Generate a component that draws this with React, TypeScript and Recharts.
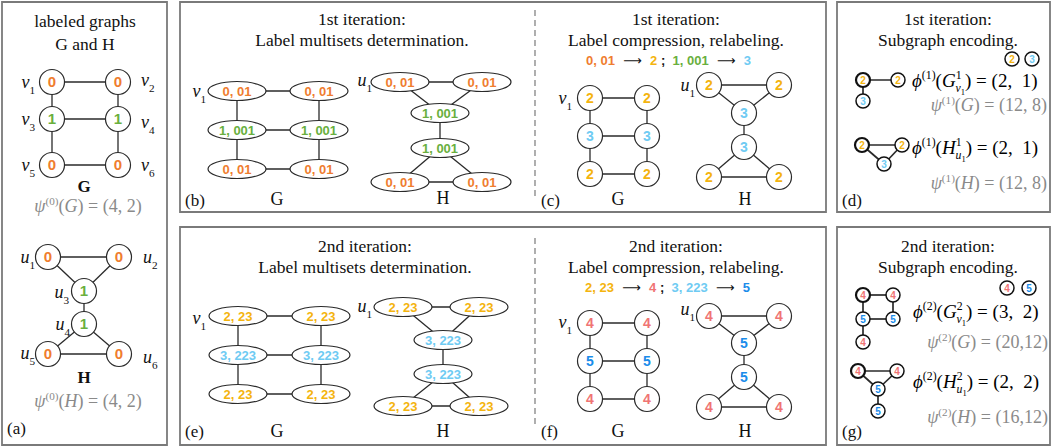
import { ScatterChart, Scatter, XAxis, YAxis, ReferenceArea, ReferenceLine } from 'recharts'

const W = 1053
const H = 448
const SERIF = "'Liberation Serif', 'Times New Roman', serif"
const SANS = "'Liberation Sans', Arial, sans-serif"
const EDGE = '#2a2a2a'
const GREY = '#8a8a8a'
const FRAME = '#7a7a7a'

const COLORS: Record<string, string> = {
  o: '#EF7D2F',
  g: '#69AF3E',
  y: '#F4B40F',
  s: '#6FCBF3',
  r: '#F07474',
  b: '#1B8CEA',
}

// node rows: [x, y, label, colour]
type Row = [number, number, string, string]

const A_G: Row[] = [[52, 82, '0', 'o'], [118, 82, '0', 'o'], [52, 119, '1', 'g'], [118, 119, '1', 'g'], [52, 165, '0', 'o'], [118, 165, '0', 'o']]
const A_H: Row[] = [[48, 257, '0', 'o'], [119, 257, '0', 'o'], [84, 291, '1', 'g'], [84, 324, '1', 'g'], [48, 354, '0', 'o'], [119, 354, '0', 'o']]
const B_G: Row[] = [[237, 91, '0, 01', 'o'], [319, 91, '0, 01', 'o'], [237, 130, '1, 001', 'g'], [319, 130, '1, 001', 'g'], [237, 169, '0, 01', 'o'], [319, 169, '0, 01', 'o']]
const B_H: Row[] = [[400, 82, '0, 01', 'o'], [482, 82, '0, 01', 'o'], [440, 113, '1, 001', 'g'], [440, 148, '1, 001', 'g'], [400, 182, '0, 01', 'o'], [482, 182, '0, 01', 'o']]
const C_G: Row[] = [[590, 98, '2', 'y'], [647, 98, '2', 'y'], [590, 136, '3', 's'], [647, 136, '3', 's'], [590, 174, '2', 'y'], [647, 174, '2', 'y']]
const C_H: Row[] = [[709, 85, '2', 'y'], [779, 85, '2', 'y'], [744, 113, '3', 's'], [744, 147, '3', 's'], [709, 177, '2', 'y'], [779, 177, '2', 'y']]
const E_G: Row[] = [[238, 316, '2, 23', 'y'], [321, 316, '2, 23', 'y'], [238, 355, '3, 223', 's'], [321, 355, '3, 223', 's'], [238, 394, '2, 23', 'y'], [321, 394, '2, 23', 'y']]
const E_H: Row[] = [[403, 307, '2, 23', 'y'], [479, 307, '2, 23', 'y'], [443, 340, '3, 223', 's'], [443, 374, '3, 223', 's'], [403, 406, '2, 23', 'y'], [479, 406, '2, 23', 'y']]
const F_G: Row[] = [[590, 323, '4', 'r'], [647, 323, '4', 'r'], [590, 361, '5', 'b'], [647, 361, '5', 'b'], [590, 399, '4', 'r'], [647, 399, '4', 'r']]
const F_H: Row[] = [[709, 316, '4', 'r'], [779, 316, '4', 'r'], [744, 343, '5', 'b'], [744, 377, '5', 'b'], [709, 407, '4', 'r'], [779, 407, '4', 'r']]

const D_G: Row[] = [[863, 80, '2', 'y'], [898, 80, '2', 'y'], [863, 101, '3', 's']]
const D_H: Row[] = [[862, 145, '2', 'y'], [902, 145, '2', 'y'], [884, 164, '3', 's']]
const D_KEY: Row[] = [[1012, 59, '2', 'y'], [1032, 59, '3', 's']]
const G_G: Row[] = [[863, 295, '4', 'r'], [893, 295, '4', 'r'], [863, 319, '5', 'b'], [893, 319, '5', 'b'], [863, 342, '4', 'r']]
const G_H: Row[] = [[858, 371, '4', 'r'], [897, 371, '4', 'r'], [878, 389, '5', 'b'], [878, 411, '5', 'b']]
const G_KEY: Row[] = [[1007, 288, '4', 'r'], [1029, 288, '5', 'b']]

const LADDER = [[0, 1], [0, 2], [1, 3], [2, 3], [2, 4], [3, 5], [4, 5]]
const BOWTIE = [[0, 1], [0, 2], [1, 2], [2, 3], [3, 4], [3, 5], [4, 5]]
const D_G_E = [[0, 1], [0, 2]]
const D_H_E = [[0, 1], [0, 2], [1, 2]]
const G_G_E = [[0, 1], [0, 2], [1, 3], [2, 3], [2, 4]]
const G_H_E = [[0, 1], [0, 2], [1, 2], [2, 3]]

const GRAPHS = [
  { rows: A_G, edges: LADDER, kind: 'a' },
  { rows: A_H, edges: BOWTIE, kind: 'a' },
  { rows: B_G, edges: LADDER, kind: 'e' },
  { rows: B_H, edges: BOWTIE, kind: 'e' },
  { rows: C_G, edges: LADDER, kind: 'c' },
  { rows: C_H, edges: BOWTIE, kind: 'c' },
  { rows: E_G, edges: LADDER, kind: 'e' },
  { rows: E_H, edges: BOWTIE, kind: 'e' },
  { rows: F_G, edges: LADDER, kind: 'c' },
  { rows: F_H, edges: BOWTIE, kind: 'c' },
  { rows: D_G, edges: D_G_E, kind: 's' },
  { rows: D_H, edges: D_H_E, kind: 's' },
  { rows: D_KEY, edges: [], kind: 'k' },
  { rows: G_G, edges: G_G_E, kind: 's' },
  { rows: G_H, edges: G_H_E, kind: 's' },
  { rows: G_KEY, edges: [], kind: 'k' },
]

// frames: [x1, x2, y1, y2]
const FRAMES = [[2, 167, 2, 445], [180, 826, 2, 212], [837, 1050, 2, 212], [180, 826, 227, 445], [837, 1050, 227, 445]]
const DIVIDERS = [[535, 10, 198], [535, 238, 428]]

// text rows
const TITLES: [number, number, string][] = [
  [85, 21, 'labeled graphs'], [85, 44, 'G and H'],
  [362, 19, '1st iteration:'], [362, 40, 'Label multisets determination.'],
  [676, 19, '1st iteration:'], [676, 40, 'Label compression, relabeling.'],
  [948, 19, '1st iteration:'], [948, 40, 'Subgraph encoding.'],
  [365, 246, '2nd iteration:'], [365, 267, 'Label multisets determination.'],
  [676, 246, '2nd iteration:'], [676, 267, 'Label compression, relabeling.'],
  [948, 246, '2nd iteration:'], [948, 267, 'Subgraph encoding.'],
]
const TAGS: [number, number, string][] = [
  [7, 428, '(a)'], [185, 200, '(b)'], [541, 200, '(c)'], [842, 200, '(d)'],
  [185, 431, '(e)'], [541, 431, '(f)'], [842, 431, '(g)'],
]
const CAPTIONS: [number, number, string, boolean][] = [
  [84, 186, 'G', true], [84, 377, 'H', true],
  [277, 199, 'G', false], [443, 198, 'H', false], [618, 199, 'G', false], [745, 199, 'H', false],
  [277, 431, 'G', false], [443, 431, 'H', false], [618, 431, 'G', false], [745, 431, 'H', false],
]
// [x, y, letter, index, anchor]
const NAMES: [number, number, string, string, string][] = [
  [35, 82, 'v', '1', 'end'], [141, 80, 'v', '2', 'start'], [35, 119, 'v', '3', 'end'],
  [141, 122, 'v', '4', 'start'], [35, 165, 'v', '5', 'end'], [141, 165, 'v', '6', 'start'],
  [35, 257, 'u', '1', 'end'], [143, 257, 'u', '2', 'start'], [69, 292, 'u', '3', 'end'],
  [70, 324, 'u', '4', 'end'], [35, 353, 'u', '5', 'end'], [143, 357, 'u', '6', 'start'],
  [206, 91, 'v', '1', 'end'], [372, 80, 'u', '1', 'end'], [572, 98, 'v', '1', 'end'], [695, 85, 'u', '1', 'end'],
  [206, 318, 'v', '1', 'end'], [372, 306, 'u', '1', 'end'], [572, 322, 'v', '1', 'end'], [695, 309, 'u', '1', 'end'],
]
// [x, y, iteration, graph, value, anchor]
const PSI: [number, number, string, string, string, string][] = [
  [88, 206, '0', 'G', '(4, 2)', 'middle'], [88, 401, '0', 'H', '(4, 2)', 'middle'],
  [1047, 105, '1', 'G', '(12, 8)', 'end'], [1047, 183, '1', 'H', '(12, 8)', 'end'],
  [1048, 342, '2', 'G', '(20,12)', 'end'], [1048, 417, '2', 'H', '(16,12)', 'end'],
]
// [x, y, iteration, graph, sup, sub, value]
const PHI: [number, number, string, string, string, string, string][] = [
  [912, 80, '1', 'G', '1', 'v', '(2,  1)'], [912, 147, '1', 'H', '1', 'u', '(2,  1)'],
  [913, 311, '2', 'G', '2', 'v', '(3,  2)'], [913, 381, '2', 'H', '2', 'u', '(2,  2)'],
]
// mapping lines: [x, y, [from, colour, to, colour] x2]
const MAPS: [number, number, string[]][] = [
  [586, 60, ['0, 01', 'o', '2', 'y', '1, 001', 'g', '3', 's']],
  [585, 287, ['2, 23', 'y', '4', 'r', '3, 223', 's', '5', 'b']],
]

type Seg = { s: string; i?: boolean; l?: number; c?: string; f?: string; w?: number; dx?: number; z?: number }

const SHIFT: Record<string, number> = { '0': 0, '1': -0.42, '-1': 0.3, '-2': 0.45 }
const SCALE: Record<string, number> = { '0': 1, '1': 0.62, '-1': 0.62, '-2': 0.45 }

const TEXTS: any[] = [
  ...TITLES.map(([x, y, s]) => ({ x, y, size: 17.5, segs: [{ s }] })),
  ...TAGS.map(([x, y, s]) => ({ x, y, size: 17, anchor: 'start', segs: [{ s }] })),
  ...CAPTIONS.map(([x, y, s, b]) => ({ x, y, size: b ? 17 : 18, weight: b ? 700 : 400, segs: [{ s }] })),
  ...NAMES.map(([x, y, a, n, anchor]) => ({ x, y, size: 18, anchor, segs: [{ s: a, i: true }, { s: n, l: -1 }] })),
  ...PSI.map(([x, y, it, g, v, anchor]) => ({
    x, y, size: 18, anchor, color: GREY,
    segs: [{ s: 'ψ', i: true }, { s: `(${it})`, l: 1 }, { s: '(' }, { s: g, i: true }, { s: `) = ${v}` }],
  })),
  ...PHI.map(([x, y, it, g, sup, sub, v]) => ({
    x, y, size: 19, anchor: 'start', color: '#000',
    segs: [
      { s: 'ϕ', i: true }, { s: `(${it})`, l: 1 }, { s: '(' }, { s: g, i: true }, { s: sup, l: 1 },
      { s: sub, i: true, l: -1, dx: -6 }, { s: '1', l: -2 }, { s: `) = ${v}` },
    ],
  })),
  ...MAPS.map(([x, y, m]) => ({
    x, y, size: 13, anchor: 'start', font: SANS, weight: 700,
    segs: [
      { s: m[0], c: COLORS[m[1]] }, { s: '  ⟶  ', c: '#111', f: "'DejaVu Sans', sans-serif", w: 400 }, { s: m[2], c: COLORS[m[3]] },
      { s: ' ;  ', c: '#111' }, { s: m[4], c: COLORS[m[5]] }, { s: '  ⟶  ', c: '#111', f: "'DejaVu Sans', sans-serif", w: 400 },
      { s: m[6], c: COLORS[m[7]] },
    ],
  })),
]

const toPts = (rows: Row[]) => rows.map(([x, y, t, c], i) => ({ x, y, t, c, root: i === 0 }))

function NodeMark({ cx, cy, payload, kind }: any) {
  const col = COLORS[payload.c]
  if (kind === 'e') {
    return (
      <g>
        <ellipse cx={cx} cy={cy} rx={29} ry={9.5} fill="#fff" stroke={EDGE} strokeWidth={1.2} />
        <text x={cx} y={cy} dy="0.36em" textAnchor="middle" fontFamily={SANS} fontWeight={700} fontSize={13} fill={col}>
          {payload.t}
        </text>
      </g>
    )
  }
  const small = kind === 's' || kind === 'k'
  const r = small ? 7 : 12.5
  const sw = small ? (kind === 's' && payload.root ? 2.2 : 1.5) : 1.2
  return (
    <g>
      <circle cx={cx} cy={cy} r={r} fill="#fff" stroke={small ? '#111' : EDGE} strokeWidth={sw} />
      <text x={cx} y={cy} dy="0.36em" textAnchor="middle" fontFamily={SANS} fontWeight={700} fontSize={small ? 10 : kind === 'a' ? 15 : 14} fill={col}>
        {payload.t}
      </text>
    </g>
  )
}

function RichText({ cx, cy, payload }: any) {
  const { segs, size, anchor = 'middle', color = '#111', font = SERIF, weight = 400 } = payload
  let prev = '0'
  return (
    <text x={cx} y={cy} dy="0.35em" textAnchor={anchor} fontFamily={font} fontSize={size} fill={color} fontWeight={weight} style={{ whiteSpace: 'pre' }}>
      {segs.map((g: Seg, k: number) => {
        const l = String(g.l ?? 0)
        const dy = (SHIFT[l] - SHIFT[prev]) * size
        prev = l
        return (
          <tspan key={k} dy={dy || undefined} dx={g.dx} fontSize={size * SCALE[l] * (g.z ?? 1)} fontStyle={g.i ? 'italic' : undefined} fill={g.c} fontFamily={g.f} fontWeight={g.w}>
            {g.s}
          </tspan>
        )
      })}
    </text>
  )
}

export default function App() {
  return (
    <div style={{ position: 'absolute', left: 0, top: 0, width: W, height: H, background: '#fff' }}>
      <ScatterChart width={W} height={H} margin={{ top: 0, right: 0, bottom: 0, left: 0 }}>
        <XAxis type="number" dataKey="x" domain={[0, W]} hide allowDataOverflow />
        <YAxis type="number" dataKey="y" domain={[0, H]} reversed hide allowDataOverflow />
        {FRAMES.map(([x1, x2, y1, y2], i) => (
          <ReferenceArea key={`f${i}`} x1={x1} x2={x2} y1={y1} y2={y2} fill="none" stroke={FRAME} strokeWidth={1.8} ifOverflow="visible" />
        ))}
        {DIVIDERS.map(([x, y1, y2], i) => (
          <ReferenceLine key={`d${i}`} segment={[{ x, y: y1 }, { x, y: y2 }]} stroke={FRAME} strokeWidth={1.2} strokeDasharray="6 4" ifOverflow="visible" />
        ))}
        {GRAPHS.flatMap((g, gi) =>
          g.edges.map(([a, b], ei) => (
            <Scatter
              key={`e${gi}-${ei}`}
              data={[toPts(g.rows)[a], toPts(g.rows)[b]]}
              line={{ stroke: EDGE, strokeWidth: g.kind === 's' ? 1.7 : 1.3 }}
              shape={() => <g />}
              isAnimationActive={false}
            />
          ))
        )}
        {GRAPHS.map((g, gi) => (
          <Scatter key={`n${gi}`} data={toPts(g.rows)} shape={(p: any) => <NodeMark {...p} kind={g.kind} />} isAnimationActive={false} />
        ))}
        <Scatter data={TEXTS} shape={(p: any) => <RichText {...p} />} isAnimationActive={false} />
      </ScatterChart>
    </div>
  )
}
